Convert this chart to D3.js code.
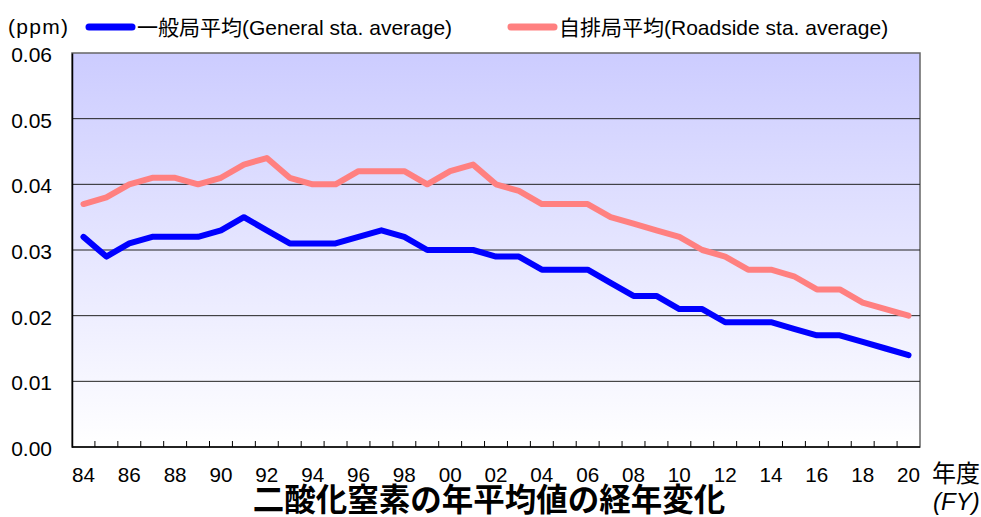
<!DOCTYPE html>
<html>
<head>
<meta charset="utf-8">
<script src="https://cdn.jsdelivr.net/npm/d3@7"></script>
<style>
  body { margin: 0; background: #fff; }
  text { font-family: "Liberation Sans", "Noto Sans CJK JP", sans-serif; fill: #000; }
</style>
</head>
<body>
<div id="chart"></div>
<script>
var svgWidth = 981;
var svgHeight = 517;

var margin = { top: 53, right: 61, bottom: 70, left: 72 };
var width = svgWidth - margin.left - margin.right;
var height = svgHeight - margin.top - margin.bottom;

// fiscal years 1984 - 2020
var years = ["84","85","86","87","88","89","90","91","92","93","94","95","96","97","98","99",
  "00","01","02","03","04","05","06","07","08","09","10","11","12","13","14","15","16","17","18","19","20"];

var generalAvg = [0.032,0.029,0.031,0.032,0.032,0.032,0.033,0.035,0.033,0.031,0.031,0.031,0.032,0.033,0.032,0.030,
  0.030,0.030,0.029,0.029,0.027,0.027,0.027,0.025,0.023,0.023,0.021,0.021,0.019,0.019,0.019,0.018,0.017,0.017,0.016,0.015,0.014];

var roadsideAvg = [0.037,0.038,0.040,0.041,0.041,0.040,0.041,0.043,0.044,0.041,0.040,0.040,0.042,0.042,0.042,0.040,
  0.042,0.043,0.040,0.039,0.037,0.037,0.037,0.035,0.034,0.033,0.032,0.030,0.029,0.027,0.027,0.026,0.024,0.024,0.022,0.021,0.020];

var yTicks = [0, 0.01, 0.02, 0.03, 0.04, 0.05, 0.06];
var xTickLabels = years.filter(function(d, i) { return i % 2 === 0; });

var seriesNames = ["一般局平均(General sta. average)", "自排局平均(Roadside sta. average)"];
var seriesColors = ["#0000ff", "#ff8080"];

var svg = d3.select("#chart")
  .append("svg")
  .attr("width", svgWidth)
  .attr("height", svgHeight);

// background gradient
var defs = svg.append("defs");
var grad = defs.append("linearGradient")
  .attr("id", "bg")
  .attr("x1", 0).attr("y1", 0).attr("x2", 0).attr("y2", 1);
grad.append("stop").attr("offset", "0%").attr("stop-color", "#ccccff");
grad.append("stop").attr("offset", "100%").attr("stop-color", "#ffffff");

var chartGroup = svg.append("g")
  .attr("transform", `translate(${margin.left}, ${margin.top})`);

var xScale = d3.scaleBand()
  .domain(years)
  .range([0, width]);

var yScale = d3.scaleLinear()
  .domain([0, 0.06])
  .range([height, 0]);

chartGroup.append("rect")
  .attr("width", width)
  .attr("height", height)
  .attr("fill", "url(#bg)")
  .attr("stroke", "#666")
  .attr("stroke-width", 1.5);

// gridlines
chartGroup.selectAll(".grid")
  .data(yTicks.slice(1, -1))
  .enter()
  .append("line")
  .attr("x1", 0)
  .attr("x2", width)
  .attr("y1", d => yScale(d))
  .attr("y2", d => yScale(d))
  .attr("stroke", "#222")
  .attr("stroke-width", 1);

// y axis
var leftAxis = d3.axisLeft(yScale)
  .tickValues(yTicks)
  .tickSize(0)
  .tickPadding(20)
  .tickFormat(d3.format(".2f"));

var yAxis = chartGroup.append("g").call(leftAxis);
yAxis.select(".domain").attr("stroke", "#000").attr("stroke-width", 1.5);
yAxis.selectAll("text")
  .attr("font-size", 21)
  .attr("font-family", "Liberation Sans")
  .attr("dy", "0.4em");

// x axis: ticks at category boundaries, pointing up
var bottomAxisLine = chartGroup.append("g")
  .attr("transform", `translate(0, ${height})`);
bottomAxisLine.append("line")
  .attr("x1", 0).attr("x2", width)
  .attr("stroke", "#000").attr("stroke-width", 1.5);
bottomAxisLine.selectAll(".xtick")
  .data(years.slice(1))
  .enter()
  .append("line")
  .attr("x1", d => xScale(d))
  .attr("x2", d => xScale(d))
  .attr("y1", 0)
  .attr("y2", -6)
  .attr("stroke", "#000");

bottomAxisLine.selectAll(".xlabel")
  .data(xTickLabels)
  .enter()
  .append("text")
  .attr("x", d => xScale(d) + xScale.bandwidth() / 2)
  .attr("y", 35)
  .attr("text-anchor", "middle")
  .attr("font-size", 21)
  .attr("textLength", 23)
  .attr("lengthAdjust", "spacingAndGlyphs")
  .text(d => d);

// lines
var line = d3.line()
  .x((d, i) => xScale(years[i]) + xScale.bandwidth() / 2)
  .y(d => yScale(d));

[generalAvg, roadsideAvg].forEach(function(values, i) {
  chartGroup.append("path")
    .datum(values)
    .attr("d", line)
    .attr("fill", "none")
    .attr("stroke", seriesColors[i])
    .attr("stroke-width", 6)
    .attr("stroke-linejoin", "round")
    .attr("stroke-linecap", "round");
});

// unit label
svg.append("text")
  .attr("x", 8)
  .attr("y", 34)
  .attr("font-size", 21)
  .attr("textLength", 60)
  .attr("lengthAdjust", "spacing")
  .text("(ppm)");

// legend
var legendX = [86, 508];
seriesNames.forEach(function(name, i) {
  var g = svg.append("g").attr("transform", `translate(${legendX[i]}, 27)`);
  g.append("line")
    .attr("x1", 3).attr("x2", 46)
    .attr("stroke", seriesColors[i])
    .attr("stroke-width", 7)
    .attr("stroke-linecap", "round");
  g.append("text")
    .attr("x", 51)
    .attr("y", 8)
    .attr("font-size", 21)
    .text(name);
});

// x axis unit
svg.append("text")
  .attr("x", 932)
  .attr("y", 482)
  .attr("font-size", 24)
  .attr("font-family", "Noto Sans CJK JP")
  .text("年度");

svg.append("text")
  .attr("x", 933)
  .attr("y", 510)
  .attr("font-size", 24)
  .attr("font-style", "italic")
  .attr("font-family", "Liberation Serif")
  .text("(FY)");

// title
svg.append("text")
  .attr("x", 489)
  .attr("y", 511)
  .attr("text-anchor", "middle")
  .attr("font-size", 31.5)
  .attr("font-weight", "bold")
  .attr("font-family", "Noto Sans CJK JP")
  .text("二酸化窒素の年平均値の経年変化");
</script>
</body>
</html>
